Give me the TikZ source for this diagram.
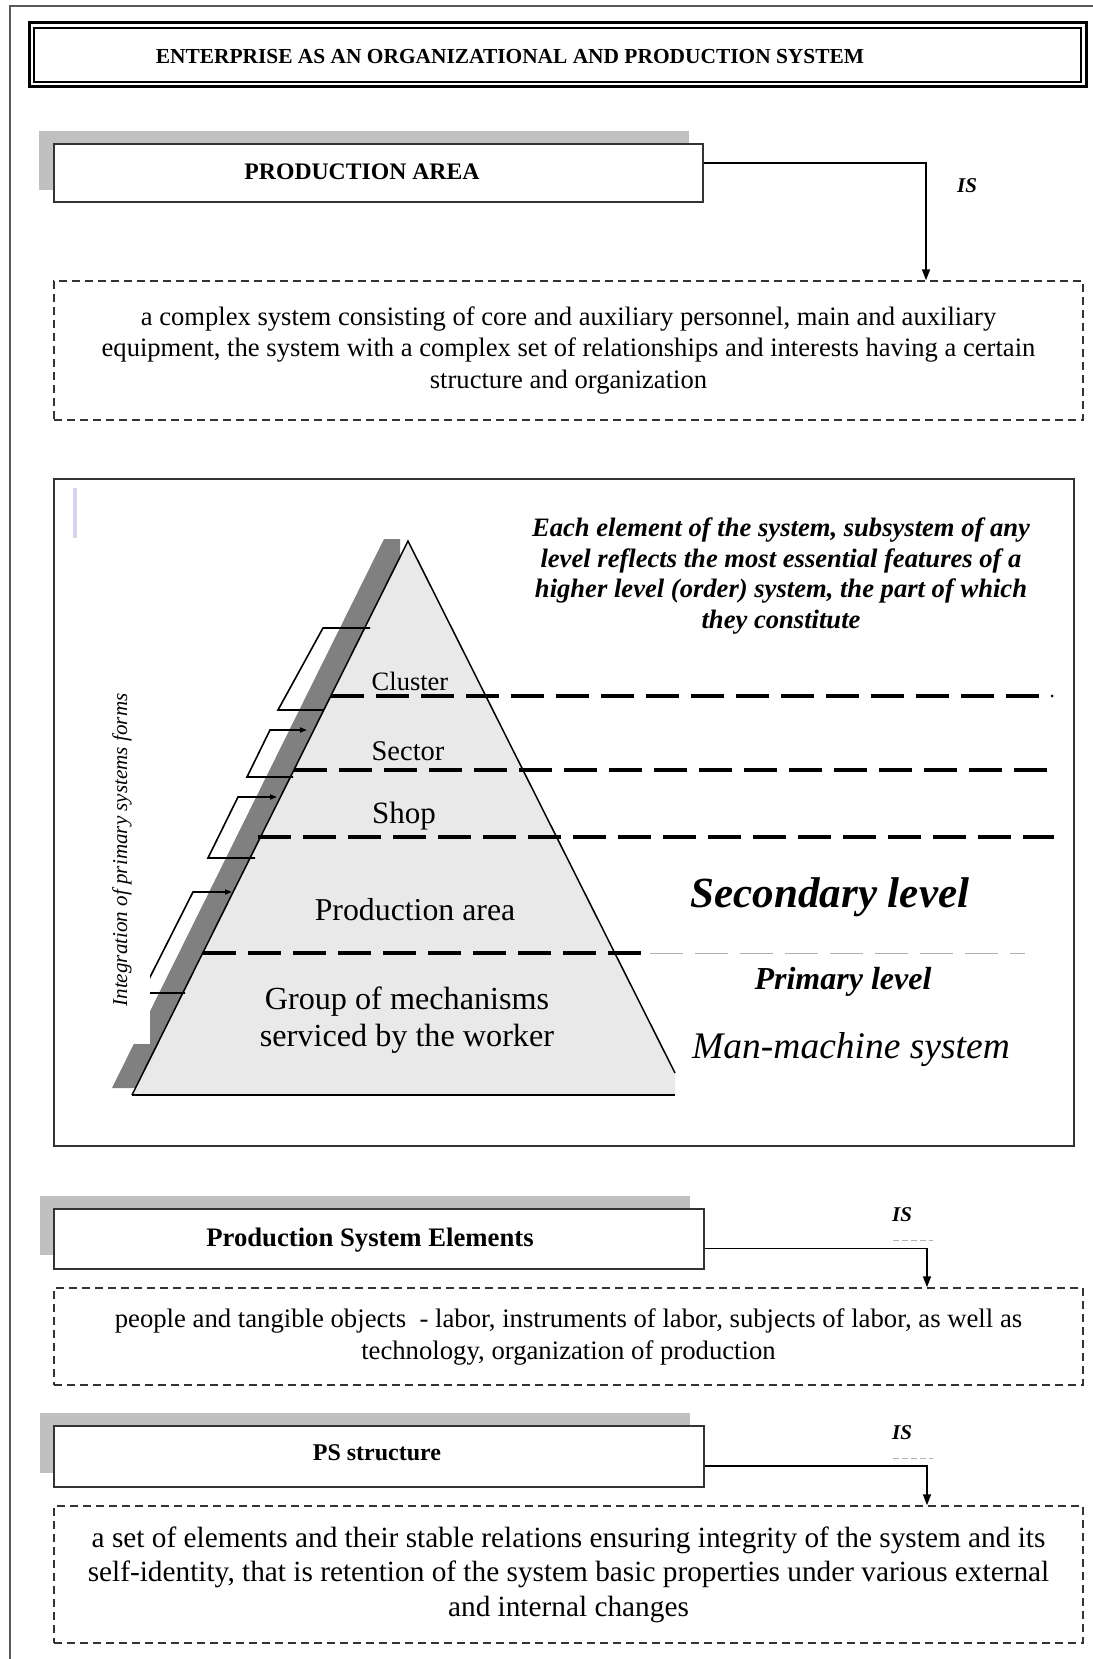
\documentclass[tikz,border=0pt]{standalone}
\usepackage{fontspec}
\setmainfont{Liberation Serif}
\usetikzlibrary{arrows.meta,calc}

\begin{document}
\begin{tikzpicture}[x=1pt, y=-1pt,
    framebox/.style={draw=lineColour, line width=1.8pt, fill=white, inner sep=0pt},
    descbox/.style={draw=lineColour, line width=1.5pt, dash pattern=on 8pt off 5pt,
        inner sep=0pt, align=center, minimum width=1029pt},
    headtext/.style={font=\bfseries\fontsize{#1}{#1}\selectfont},
    istext/.style={font=\bfseries\itshape\fontsize{21}{21}\selectfont},
    isline/.style={line width=1.5pt, -{Triangle[length=11pt,width=8pt]}},
    levelline/.style={line width=3.5pt, dash pattern=on 33pt off 12pt},
    bracketline/.style={line width=1.6pt},
    layertext/.style={font=\fontsize{#1}{#1}\selectfont}
]
    % Define colours
    \definecolor{lineColour}{HTML}{333333}
    \definecolor{shadowColour}{HTML}{C0C0C0}
    \definecolor{pyrShadow}{HTML}{808080}
    \definecolor{pyrFill}{HTML}{E9E9E9}
    \definecolor{barColour}{HTML}{D3D3EA}

    \useasboundingbox (0,0) rectangle (1092,1659);

    % Outer frame
    \draw[line width=1.5pt, draw=gray!70!black] (1100,6) -- (10,6) -- (10,1670);

    % Title box (double border)
    \draw[line width=3pt] (29,23) rectangle (1086,87);
    \draw[line width=1.2pt] (34,28) rectangle (1081,82);
    \node[headtext=21.4] (title) at (510,57) {ENTERPRISE AS AN ORGANIZATIONAL AND PRODUCTION SYSTEM};

    % Production area box
    \fill[shadowColour] (39,131) rectangle (689,190);
    \node[framebox, minimum width=649pt, minimum height=58pt] (pabox) at (378.5,173) {};
    \node[headtext=23.7] (patext) at (362,172) {PRODUCTION AREA};
    \node[descbox, minimum height=139pt, font=\fontsize{26.6}{31.5}\selectfont] (desc1) at (568.5,350.5)
        {a complex system consisting of core and auxiliary personnel, main and auxiliary\\
         equipment, the system with a complex set of relationships and interests having a certain\\
         structure and organization};
    \coordinate (is1x) at (926,0);
    \draw[isline] (pabox.east |- 0,163) -| (is1x |- desc1.north);
    \node[istext] (is1) at (967,186) {IS};

    % Pyramid frame
    \draw[draw=lineColour, line width=1.8pt] (54,479) rectangle (1074,1146);
    \fill[barColour] (72.5,488) rectangle (76.5,538);

    % Define coordinates for the pyramid
    \coordinate (apex) at (408,541);
    \coordinate (baseL) at (132,1095);
    \coordinate (cutT) at (675,1073);
    \coordinate (cutB) at (675,1095);

    % Draw pyramid and its shadow
    \fill[pyrShadow] (384,539) -- (400,539) -- (400,570) -- (152,1088) -- (112,1088) -- cycle;
    \fill[pyrFill] (apex) -- (cutT) -- (cutB) -- (baseL) -- cycle;
    \draw[line width=1.5pt] (baseL) -- (apex) -- (cutT);
    \draw[line width=1.5pt] (baseL) -- (cutB);

    % Integration brackets
    \draw[bracketline] (323,710) -- (278,710) -- (323,628) -- (370,628);
    \draw[bracketline, -{Triangle[length=7pt,width=5pt]}] (293,777) -- (247,777) -- (270,730) -- (307,730);
    \draw[bracketline, -{Triangle[length=7pt,width=5pt]}] (255,858) -- (208,858) -- (238,797) -- (277,797);
    \draw[bracketline, -{Triangle[length=7pt,width=5pt]}] (185,993) -- (142,993) -- (193,892) -- (232,892);
    \fill[white] (96,640) rectangle (150,1044);
    \node[rotate=90, font=\itshape\fontsize{21.1}{21.1}\selectfont] (integ) at (122,850)
        {Integration of primary systems forms};

    % Level lines
    \draw[levelline] (331,696) -- (1040,696);
    \fill (1052,696) circle (1.5pt);
    \draw[levelline] (294,770) -- (1047,770);
    \draw[levelline] (258,837) -- (1054,837);
    \draw[levelline] (203,953) -- (648,953);
    \draw[gray!60, line width=0.8pt, dash pattern=on 33pt off 12pt] (650,953) -- (1025,953);

    % Layer labels
    \node[layertext=26.5] (cluster) at (410,681) {Cluster};
    \node[layertext=28.5] (sector) at (408,751) {Sector};
    \node[layertext=31] (shop) at (404,816) {Shop};
    \node[layertext=31.8] (parea) at (415,910) {Production area};
    \node[align=center, font=\fontsize{32.2}{37}\selectfont] (group) at (407,1020)
        {Group of mechanisms\\ serviced by the worker};

    % Right side texts
    \node[align=center, font=\bfseries\itshape\fontsize{26.6}{30.5}\selectfont] (each) at (781,576)
        {Each element of the system, subsystem of any\\ level reflects the most essential features of a\\
         higher level (order) system, the part of which\\ they constitute};
    \node[font=\bfseries\itshape\fontsize{43}{43}\selectfont] (second) at (830,897) {Secondary level};
    \node[font=\bfseries\itshape\fontsize{32}{32}\selectfont] (primary) at (843,982) {Primary level};
    \node[font=\itshape\fontsize{37.5}{37.5}\selectfont] (manmach) at (851,1050) {Man-machine system};

    % Production system elements box
    \fill[shadowColour] (40,1196) rectangle (690,1255);
    \node[framebox, minimum width=650pt, minimum height=60pt] (psebox) at (379,1239) {};
    \node[headtext=26.7] (psetext) at (370,1240) {Production System Elements};
    \node[descbox, minimum height=97pt, font=\fontsize{26.7}{32}\selectfont] (desc2) at (568.5,1336.5)
        {people and tangible objects \ - labor, instruments of labor, subjects of labor, as well as\\
         technology, organization of production};
    \coordinate (is2x) at (927,0);
    \draw[isline] (psebox.east |- 0,1248.5) -| (is2x |- desc2.north);
    \node[istext] (is2) at (902,1215) {IS};
    \draw[gray!60, line width=0.8pt, dash pattern=on 6pt off 3pt] (893,1240) -- (933,1240);

    % PS structure box
    \fill[shadowColour] (40,1413) rectangle (690,1473);
    \node[framebox, minimum width=650pt, minimum height=61pt] (psbox) at (379,1456.5) {};
    \node[headtext=24] (pstext) at (377,1453) {PS structure};
    \node[descbox, minimum height=137pt, font=\fontsize{29.3}{34.4}\selectfont] (desc3) at (568.5,1574.5)
        {a set of elements and their stable relations ensuring integrity of the system and its\\
         self-identity, that is retention of the system basic properties under various external\\
         and internal changes};
    \coordinate (is3x) at (927,0);
    \draw[isline] (psbox.east |- 0,1466) -| (is3x |- desc3.north);
    \node[istext] (is3) at (902,1433) {IS};
    \draw[gray!60, line width=0.8pt, dash pattern=on 6pt off 3pt] (893,1458) -- (933,1458);

\end{tikzpicture}
\end{document}
